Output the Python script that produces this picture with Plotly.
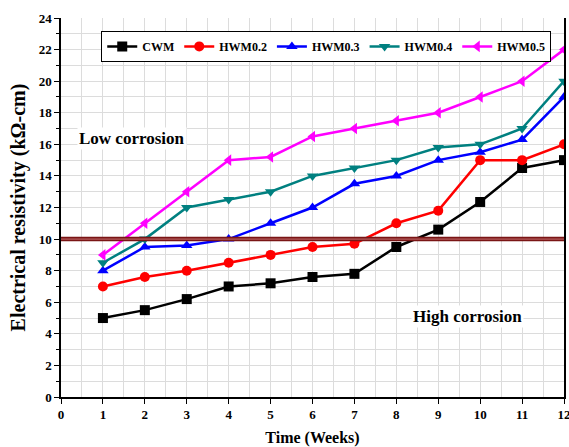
import plotly.graph_objects as go

weeks = [1, 2, 3, 4, 5, 6, 7, 8, 9, 10, 11, 12]
cwm = [5, 5.5, 6.2, 7, 7.2, 7.6, 7.8, 9.5, 10.6, 12.35, 14.5, 15]
hwm02 = [7, 7.6, 8, 8.5, 9, 9.5, 9.7, 11, 11.8, 15, 15, 16]
hwm03 = [8, 9.5, 9.6, 10, 11, 12, 13.5, 14, 15, 15.5, 16.3, 19]
hwm04 = [8.5, 10, 12, 12.5, 13, 14, 14.5, 15, 15.8, 16, 17, 20]
hwm05 = [9, 11, 13, 15, 15.2, 16.5, 17, 17.5, 18, 19, 20, 22]
threshold = 10

series = [
    ("CWM", cwm, "black", "square"),
    ("HWM0.2", hwm02, "#ff0000", "circle"),
    ("HWM0.3", hwm03, "#0000ff", "triangle-up"),
    ("HWM0.4", hwm04, "#008080", "triangle-down"),
    ("HWM0.5", hwm05, "#ff00ff", "triangle-left"),
]

font = "Liberation Serif, Times New Roman, serif"
fig = go.Figure()
for name, vals, col, sym in series:
    fig.add_trace(go.Scatter(
        x=weeks, y=vals, name=name, mode="lines+markers",
        line=dict(color=col, width=2.5),
        marker=dict(symbol=sym, size=10, color=col),
    ))

fig.add_shape(type="line", xref="paper", x0=0, x1=1, yref="y", y0=threshold, y1=threshold,
              line=dict(color="#7a1515", width=4.5), layer="above")
fig.add_shape(type="line", xref="paper", x0=0, x1=1, yref="y", y0=threshold, y1=threshold,
              line=dict(color="#c47070", width=1), layer="above")

fig.add_annotation(x=1.7, y=16.4, text="<b>Low corrosion</b>", showarrow=False,
                   font=dict(family=font, size=17, color="black"), bgcolor="white")
fig.add_annotation(x=9.7, y=5.1, text="<b>High corrosion</b>", showarrow=False,
                   font=dict(family=font, size=17, color="black"), bgcolor="white")

fig.update_layout(
    width=569, height=447,
    margin=dict(l=61, r=5, t=18, b=50, autoexpand=False),
    paper_bgcolor="white", plot_bgcolor="white",
    font=dict(family=font, size=12, color="black"),
    legend=dict(orientation="h", x=0.08, y=0.966, xanchor="left", yanchor="top",
                bordercolor="black", borderwidth=1, bgcolor="white",
                font=dict(family=font, size=12, color="black", weight="bold"),
                itemwidth=30, tracegroupgap=0),
    showlegend=True,
)
fig.update_xaxes(
    range=[0, 12], dtick=1, tick0=0, showgrid=True, gridcolor="#dcdcdc", gridwidth=1,
    minor=dict(dtick=0.5, showgrid=True, gridcolor="#dcdcdc"),
    showline=True, linecolor="black", linewidth=1.5, mirror=False, automargin=False,
    ticks="outside", ticklen=5, tickcolor="black", zeroline=False, ticklabeloverflow="allow",
    tickfont=dict(family=font, size=13, weight="bold"),
    title=dict(text="<b>Time (Weeks)</b>", font=dict(family=font, size=16), standoff=12),
)
fig.update_yaxes(
    range=[0, 24], dtick=2, tick0=0, showgrid=True, gridcolor="#dcdcdc", gridwidth=1,
    minor=dict(dtick=1, showgrid=True, gridcolor="#dcdcdc", ticks="outside", ticklen=3, tickcolor="black"),
    showline=True, linecolor="black", linewidth=1.5, mirror=True, automargin=False,
    ticks="outside", ticklen=5, tickcolor="black", zeroline=False,
    tickfont=dict(family=font, size=13, weight="bold"),
    title=dict(text="<b>Electrical resistivity (kΩ-cm)</b>", font=dict(family=font, size=20), standoff=8),
)
fig.write_html("out.html")
